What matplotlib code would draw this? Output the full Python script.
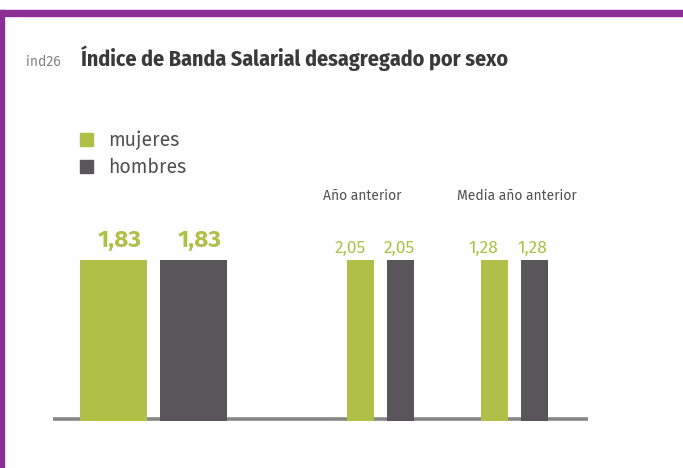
import matplotlib
matplotlib.use("Agg")
import matplotlib.pyplot as plt
from matplotlib.patches import Rectangle

# datos
grupos = ["", "Año anterior", "Media año anterior"]
mujeres = [1.83, 2.05, 1.28]
hombres = [1.83, 2.05, 1.28]
etiquetas = ["mujeres", "hombres"]

verde = "#AEC047"
gris = "#5A555B"
morado = "#8B2F97"
fuente = ["Fira Sans", "DejaVu Sans"]
titulo_f = ["Fira Sans Condensed", "DejaVu Sans"]

W, H = 683, 468
fig = plt.figure(figsize=(W / 100, H / 100), dpi=100)

# marco morado (arriba e izquierda)
fig.patches.append(Rectangle((0, 1 - 16 / H), 1, 6 / H, transform=fig.transFigure,
                             color=morado, zorder=0))
fig.patches.append(Rectangle((0, 0), 3.5 / W, 1 - 10 / H, transform=fig.transFigure,
                             color=morado, zorder=0))

fig.text(26 / W, 1 - 66 / H, "ind26", fontsize=10, color="#808080",
         family=fuente, va="baseline")
fig.text(81 / W, 1 - 66 / H, "Índice de Banda Salarial desagregado por sexo",
         fontsize=15.8, color="#3a3a3a", weight="bold", family=titulo_f, va="baseline")

# leyenda
for i, (lab, col) in enumerate(zip(etiquetas, [verde, gris])):
    base = 146 + i * 27
    fig.patches.append(Rectangle((80 / W, 1 - base / H), 13 / W, 13 / H,
                                 transform=fig.transFigure, color=col))
    fig.text(108 / W, 1 - base / H, lab, fontsize=14, color="#505050", family=fuente,
             va="baseline")

# barras: eje en pixeles horizontales, altura relativa por grupo
ax = fig.add_axes([53 / W, 1 - 421 / H, (588 - 53) / W, (421 - 260) / H])
ax.set_xlim(53, 588)
ax.set_ylim(0, 1)
ax.axis("off")

centros_m = [113.5, 360.5, 494.5]
centros_h = [193.5, 400.5, 534.5]
anchos = [67, 27, 27]
desp_m = [6, -10, -11]
desp_h = [6, -1, -2]
centros_grupo = [0, 362, 517]

for g in range(len(grupos)):
    tope = max(mujeres[g], hombres[g])
    hm = mujeres[g] / tope
    hh = hombres[g] / tope
    ax.bar(centros_m[g], hm, width=anchos[g], color=verde, zorder=2)
    ax.bar(centros_h[g], hh, width=anchos[g], color=gris, zorder=2)
    if g == 0:
        kw = dict(fontsize=17.5, weight="bold")
        dy = 13
    else:
        kw = dict(fontsize=12.5)
        dy = 7
    for c, v, h in [(centros_m[g] + desp_m[g], mujeres[g], hm),
                    (centros_h[g] + desp_h[g], hombres[g], hh)]:
        ax.annotate(f"{v:.2f}".replace(".", ","), (c, h), xytext=(0, dy),
                    textcoords="offset pixels", ha="center", va="baseline",
                    color=verde, family=fuente, **kw)
    if grupos[g]:
        fig.text(ax.transData.transform((centros_grupo[g], 0))[0] / W, 1 - 200 / H,
                 grupos[g], ha="center", va="baseline", fontsize=10,
                 color="#505050", family=fuente)

ax.plot([53, 588], [0.01, 0.01], color="#878787", lw=2.6, zorder=1,
        solid_capstyle="butt")

fig.savefig("out.png", dpi=100)
